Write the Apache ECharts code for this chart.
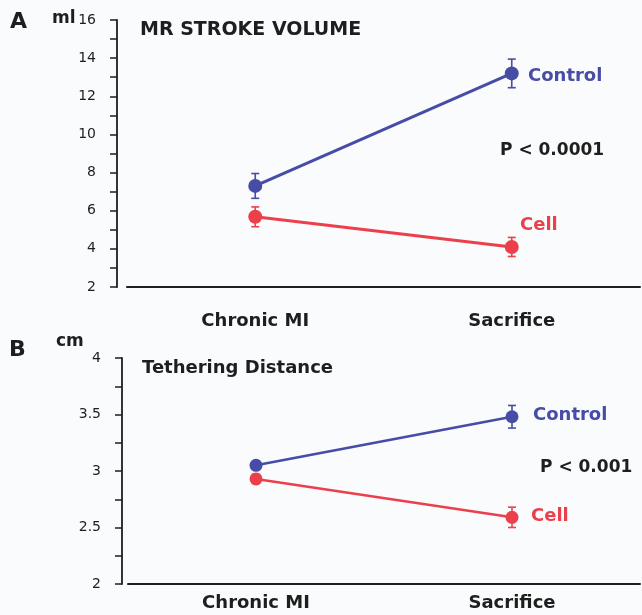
<!DOCTYPE html>
<html>
<head>
<meta charset="utf-8">
<script src="https://cdn.jsdelivr.net/npm/echarts@6/dist/echarts.min.js"></script>
<style>
html,body{margin:0;padding:0;background:#fafbfc;}
#chart{width:642px;height:615px;}
</style>
</head>
<body>
<div id="chart"></div>
<script>
const categories = ['Chronic MI', 'Sacrifice'];
// Panel A: MR stroke volume (ml)
const aControl = [7.3, 13.2];
const aControlErr = [0.65, 0.75];
const aCell = [5.68, 4.1];
const aCellErr = [0.52, 0.5];
const aTicks = [2, 4, 6, 8, 10, 12, 14, 16];
// Panel B: Tethering distance (cm)
const bControl = [3.05, 3.48];
const bControlErr = [0.03, 0.1];
const bCell = [2.93, 2.59];
const bCellErr = [0.04, 0.09];
const bTicks = [2, 2.5, 3, 3.5, 4];

const BLUE = '#474ca6';
const RED = '#ec3f4c';
const INK = '#1e1e1e';
const FONT = 'DejaVu Sans';

function errData(vals, errs) {
  return vals.map((v, i) => [i, v - errs[i], v + errs[i]]);
}
function errSeries(name, idx, vals, errs, color) {
  return {
    type: 'custom', name: name, xAxisIndex: idx, yAxisIndex: idx, z: 2,
    data: errData(vals, errs),
    encode: {x: 0, y: [1, 2]},
    renderItem: function (params, api) {
      const lo = api.coord([api.value(0), api.value(1)]);
      const hi = api.coord([api.value(0), api.value(2)]);
      const w = 4;
      const st = {stroke: color, lineWidth: 1.6};
      return {type: 'group', children: [
        {type: 'line', shape: {x1: lo[0], y1: lo[1], x2: hi[0], y2: hi[1]}, style: st},
        {type: 'line', shape: {x1: lo[0] - w, y1: lo[1], x2: lo[0] + w, y2: lo[1]}, style: st},
        {type: 'line', shape: {x1: hi[0] - w, y1: hi[1], x2: hi[0] + w, y2: hi[1]}, style: st}
      ]};
    }
  };
}
function lineSeries(name, idx, vals, color, lw, size) {
  return {
    type: 'line', name: name, xAxisIndex: idx, yAxisIndex: idx, z: 3,
    data: vals, symbol: 'circle', symbolSize: size, showSymbol: true,
    lineStyle: {color: color, width: lw}, itemStyle: {color: color},
    animation: false
  };
}
function xAx(idx, margin) {
  return {
    type: 'category', gridIndex: idx, data: categories, boundaryGap: true,
    axisLine: {lineStyle: {color: INK, width: 2}},
    axisTick: {alignWithLabel: true, length: 4, lineStyle: {color: INK, width: 1.5}},
    axisLabel: {color: INK, fontFamily: FONT, fontWeight: 'bold', fontSize: 18, margin: margin},
    splitLine: {show: false}
  };
}
function yAx(idx, min, max, interval, offset, ticks) {
  return {
    type: 'value', gridIndex: idx, min: min, max: max, interval: interval, offset: offset,
    axisLine: {show: true, lineStyle: {color: INK, width: 1.8}},
    axisTick: {show: true, length: 7, lineStyle: {color: INK, width: 1.5}},
    minorTick: {show: true, splitNumber: 2, length: 7, lineStyle: {color: INK, width: 1.5}},
    axisLabel: {color: INK, fontFamily: FONT, fontSize: 14, margin: 21,
      formatter: function (v) { return ticks.indexOf(v) >= 0 ? String(v) : ''; }},
    splitLine: {show: false}
  };
}
function txt(x, y, s, size, color, weight) {
  return {type: 'text', x: x, y: y, style: {text: s, fontFamily: FONT, fontSize: size,
    fontWeight: weight || 'bold', fill: color, verticalAlign: 'middle', align: 'left'}};
}

const chart = echarts.init(document.getElementById('chart'), null, {renderer: 'canvas'});
chart.setOption({
  backgroundColor: '#fafbfc',
  animation: false,
  grid: [
    {left: 127, right: 2, top: 20, height: 267},
    {left: 128, right: 2, top: 358, height: 226}
  ],
  xAxis: [xAx(0, 25), xAx(1, 10)],
  yAxis: [yAx(0, 2, 16, 2, 10, aTicks), yAx(1, 2, 4, 0.5, 6, bTicks)],
  series: [
    errSeries('aControlErr', 0, aControl, aControlErr, BLUE),
    errSeries('aCellErr', 0, aCell, aCellErr, RED),
    lineSeries('Control', 0, aControl, BLUE, 3, 14),
    lineSeries('Cell', 0, aCell, RED, 3, 14),
    errSeries('bControlErr', 1, bControl, bControlErr, BLUE),
    errSeries('bCellErr', 1, bCell, bCellErr, RED),
    lineSeries('Control', 1, bControl, BLUE, 2.5, 13),
    lineSeries('Cell', 1, bCell, RED, 2.5, 13)
  ],
  graphic: [
    txt(10, 22, 'A', 22, INK),
    txt(52, 19, 'ml', 17, INK),
    txt(140, 30, 'MR STROKE VOLUME', 19, INK),
    txt(528, 76, 'Control', 18, BLUE),
    txt(500, 151, 'P < 0.0001', 17, INK),
    txt(520, 225, 'Cell', 18, RED),
    txt(9, 350, 'B', 22, INK),
    txt(56, 342, 'cm', 17, INK),
    txt(142, 368, 'Tethering Distance', 18, INK),
    txt(533, 415, 'Control', 18, BLUE),
    txt(540, 468, 'P < 0.001', 17, INK),
    txt(531, 516, 'Cell', 18, RED)
  ]
});
</script>
</body>
</html>
